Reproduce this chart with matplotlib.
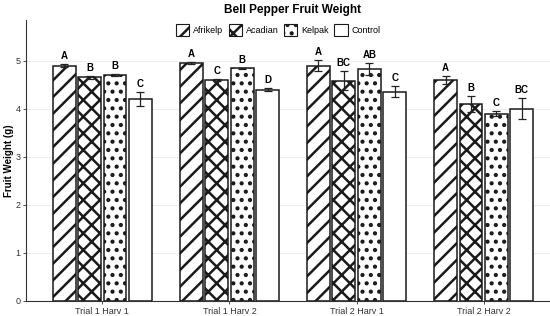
import matplotlib.pyplot as plt
import numpy as np
from matplotlib.patches import Patch

plt.rcParams['font.family'] = ['Liberation Sans', 'DejaVu Sans']
plt.rcParams['hatch.linewidth'] = 1.8

groups = ["Trial 1 Harv 1", "Trial 1 Harv 2", "Trial 2 Harv 1", "Trial 2 Harv 2"]
treatments = ["Afrikelp", "Acadian", "Kelpak", "Control"]

# mean fruit weight per treatment, one value per group
afrikelp = [4.90, 4.95, 4.90, 4.60]
acadian = [4.66, 4.61, 4.59, 4.10]
kelpak = [4.71, 4.85, 4.83, 3.90]
control = [4.20, 4.40, 4.36, 4.00]

afrikelp_err = [0.03, 0.02, 0.11, 0.08]
acadian_err = [0.03, 0.02, 0.20, 0.16]
kelpak_err = [0.02, 0.01, 0.12, 0.05]
control_err = [0.15, 0.03, 0.11, 0.22]

afrikelp_lbl = ["A", "A", "A", "A"]
acadian_lbl = ["B", "C", "BC", "B"]
kelpak_lbl = ["B", "B", "AB", "C"]
control_lbl = ["C", "D", "C", "BC"]

means = [afrikelp, acadian, kelpak, control]
errs = [afrikelp_err, acadian_err, kelpak_err, control_err]
lbls = [afrikelp_lbl, acadian_lbl, kelpak_lbl, control_lbl]
hatches = ['//', 'xx', '..', '']

fig = plt.figure(figsize=(5.5, 3.16), dpi=100)
ax = fig.add_axes([26 / 550, 15 / 316, 534 / 550, 281 / 316])

x = np.arange(1, len(groups) + 1)
offsets = [-0.3, -0.1, 0.1, 0.3]
width = 0.18

for i in range(4):
    xs = x + offsets[i]
    ax.bar(xs, means[i], width=width, color='white', edgecolor='#1a1a1a',
           linewidth=1.1, hatch=hatches[i], zorder=2)
    ax.errorbar(xs, means[i], yerr=errs[i], fmt='none', ecolor='#222222',
                elinewidth=0.9, capsize=3, capthick=0.9, zorder=3)
    for xi, m, e, l in zip(xs, means[i], errs[i], lbls[i]):
        ax.text(xi, m + e + 0.06, l, ha='center', va='bottom',
                fontsize=7, fontweight='bold')

ax.set_xlim(0.4, 4.6)
ax.set_ylim(0, 5.85)
ax.set_xticks(x)
ax.set_xticklabels(groups)
ax.set_yticks([0, 1, 2, 3, 4, 5])
ax.tick_params(labelsize=6.5, length=2, width=0.6, color='#333333', pad=2,
               labelcolor='#333333')
ax.set_ylabel("Fruit Weight (g)", fontsize=7, fontweight='bold', labelpad=1)
ax.grid(axis='y', color='#ebebeb', linewidth=0.6, zorder=0)
ax.set_axisbelow(True)
for s in ['top', 'right']:
    ax.spines[s].set_visible(False)
for s in ['left', 'bottom']:
    ax.spines[s].set_color('#333333')
    ax.spines[s].set_linewidth(0.8)

fig.text(293 / 550, 1 - 10 / 316, "Bell Pepper Fruit Weight", ha='center',
         va='center', fontsize=8.5, fontweight='bold')

handles = [Patch(facecolor='white', edgecolor='#1a1a1a', hatch=h, linewidth=0.8)
           for h in hatches]
fig.legend(handles, treatments, loc='center', bbox_to_anchor=(278 / 550, 1 - 30 / 316),
           ncol=4, frameon=False, fontsize=6.5, handlelength=1.5, handleheight=1.5,
           handletextpad=0.4, columnspacing=0.6)

fig.savefig("out.png", dpi=100)
